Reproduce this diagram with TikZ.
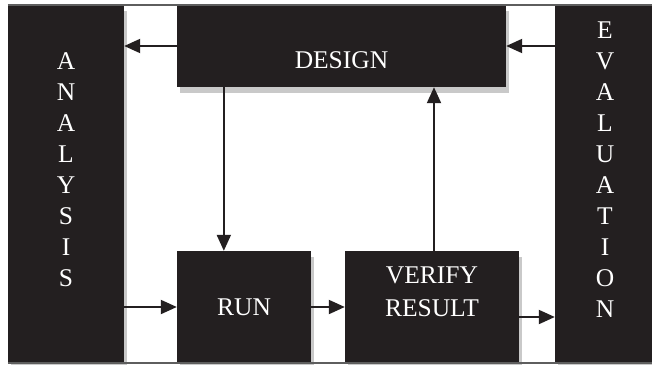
\documentclass[tikz,border=0pt]{standalone}
\usepackage{fontspec}
\setmainfont{Liberation Serif}
\usetikzlibrary{arrows.meta,positioning,shadows,calc}
\definecolor{ink}{HTML}{231F20}
\definecolor{shade}{HTML}{C9C9C9}
\definecolor{rulegray}{HTML}{5E5E5E}
\tikzset{
  block/.style={fill=ink, draw=none, inner sep=0pt, drop shadow={shadow xshift=3pt, shadow yshift=-6pt, fill=shade, opacity=1}},
  caption/.style={text=white, align=center, inner sep=0pt, font=\fontsize{25.5}{33}\selectfont},
  letters/.style={caption, font=\fontsize{25.5}{31}\selectfont},
  arrow/.style={-{Triangle[length=16pt,width=14pt]}, line width=2pt, draw=ink},
  edgeline/.style={line width=1.5pt, draw=rulegray}
}
\begin{document}
\begin{tikzpicture}[x=1pt, y=-1pt]
\path[use as bounding box, clip] (0,0) rectangle (652,364);
\fill[white] (0,0) rectangle (652,364);
% side columns
\node[block, minimum width=116pt, minimum height=358pt,
  label={[letters, yshift=14pt]center:{A\\N\\A\\L\\Y\\S\\I\\S}}] (analysis) at (66,184) {};
\node[block, minimum width=97pt, minimum height=358pt,
  label={[letters, xshift=1.5pt, yshift=14pt]center:{E\\V\\A\\L\\U\\A\\T\\I\\O\\N}}] (evaluation) at (603.5,184) {};
% boxes
\node[block, minimum width=329pt, minimum height=82pt,
  label={[caption, yshift=-14.5pt]center:DESIGN}] (design) at (341.5,46) {};
\node[block, minimum width=134pt, minimum height=112pt,
  label={[caption]center:RUN}] (run) at (244,307) {};
\node[block, minimum width=174pt, minimum height=112pt,
  label={[caption, yshift=15pt]center:{VERIFY\\RESULT}}] (verify) at (432,307) {};
% connectors
\coordinate (drop) at ($(run.north west)!0.35!(run.north east)$);
\draw[arrow] (design.west) -- (design.west -| analysis.east);
\draw[arrow] (evaluation.west |- design.east) -- (design.east);
\draw[arrow] (drop |- design.south) -- (drop);
\draw[arrow] ([xshift=2pt]verify.north) -- ([xshift=2pt]verify.north |- design.south);
\draw[arrow] (analysis.east |- run.west) -- (run.west);
\draw[arrow] (run.east) -- (verify.west);
\draw[arrow] ([yshift=-10pt]verify.east) -- ([yshift=-10pt]verify.east -| evaluation.west);
% frame lines
\draw[edgeline] (analysis.north west) -- (evaluation.north east);
\draw[edgeline] (analysis.south west) -- (evaluation.south east);
\end{tikzpicture}
\end{document}
